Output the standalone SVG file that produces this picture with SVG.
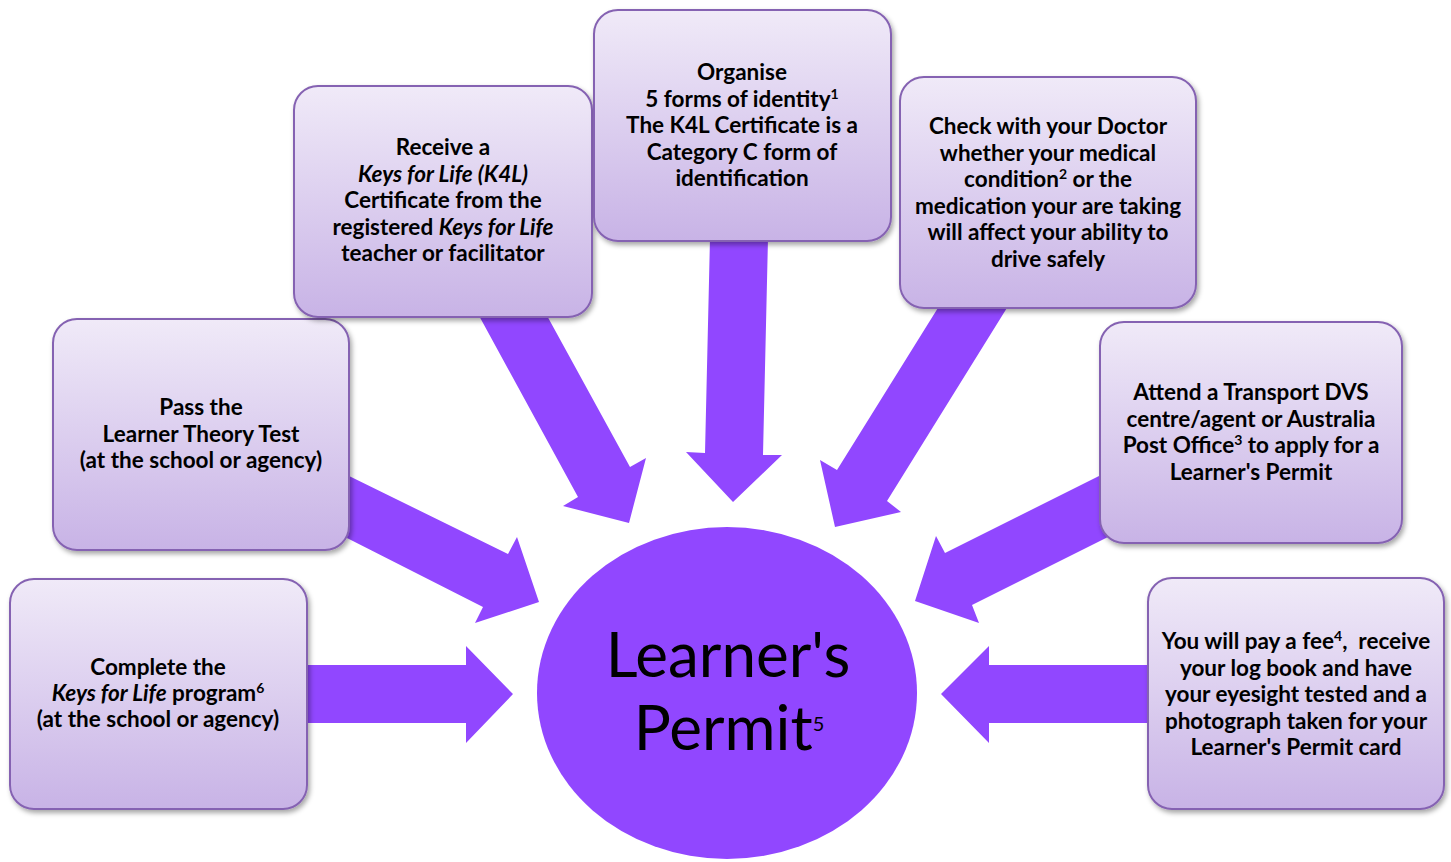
<svg xmlns="http://www.w3.org/2000/svg" width="1451" height="862" viewBox="0 0 1451 862">
<defs>
<linearGradient id="boxg" x1="0" y1="0" x2="0" y2="1">
<stop offset="0" stop-color="#f0eaf8"/>
<stop offset="1" stop-color="#c8b3e6"/>
</linearGradient>
<filter id="sh" x="-10%" y="-10%" width="125%" height="125%">
<feDropShadow dx="2" dy="3" stdDeviation="2.5" flood-color="#000" flood-opacity="0.35"/>
</filter>
</defs>
<style>
.box{fill:url(#boxg);stroke:#8562b2;stroke-width:2;filter:url(#sh);}
.arrow{fill:#9147ff;}
.t{font-family:Lato,"Liberation Sans",sans-serif;font-weight:bold;font-size:22.5px;fill:#000;text-anchor:middle;}
.i{font-style:italic;}
.sup{font-size:14px;}
.big{font-family:Lato,"Liberation Sans",sans-serif;font-size:62px;fill:#000;text-anchor:middle;}
</style>
<rect width="1451" height="862" fill="#fff"/>
<g id="connectors">
<polygon class="arrow" points="300,665 466,665 466,646 513,694 466,743 466,723 300,723"/>
<polygon class="arrow" points="1150,665 989,665 989,646 941,694 989,743 989,723 1150,723"/>
<polygon class="arrow" points="345,474 508,554 517,537 539,602 475,623 483,607 345,537"/>
<polygon class="arrow" points="477,312 545,312 630,467 646,458 629,523 563,506 578,497"/>
<polygon class="arrow" points="710,238 768,238 763,455 782,455 733,502 686,452 705,453"/>
<polygon class="arrow" points="941,303 1010,303 887,501 901,512 835,527 820,460 837,470"/>
<polygon class="arrow" points="1105,473 945,553 936,536 915,601 979,623 972,605 1108,537"/>
</g>
<g id="center">
<ellipse cx="727" cy="693" rx="190" ry="166" fill="#9147ff"/>
<text class="big" x="728" y="677">Learner's</text>
<text class="big" x="729" y="750">Permit<tspan font-size="20" dy="-19">5</tspan></text>
</g>
<g id="box1">
<rect class="box" x="10" y="579" width="297" height="230" rx="24"/>
<text class="t" x="158" y="675">Complete the</text>
<text class="t" x="158" y="701"><tspan class="i">Keys for Life</tspan> program<tspan class="sup" dy="-8">6</tspan></text>
<text class="t" x="158" y="727">(at the school or agency)</text>
</g>
<g id="box2">
<rect class="box" x="53" y="319" width="296" height="231" rx="24"/>
<text class="t" x="201" y="415">Pass the</text>
<text class="t" x="201" y="441.5">Learner Theory Test</text>
<text class="t" x="201" y="468">(at the school or agency)</text>
</g>
<g id="box3">
<rect class="box" x="294" y="86" width="298" height="231" rx="24"/>
<text class="t" x="443" y="155">Receive a</text>
<text class="t i" x="443" y="181.5">Keys for Life (K4L)</text>
<text class="t" x="443" y="208">Certificate from the</text>
<text class="t" x="443" y="234.5">registered <tspan class="i">Keys for Life</tspan></text>
<text class="t" x="443" y="261">teacher or facilitator</text>
</g>
<g id="box4">
<rect class="box" x="594" y="10" width="297" height="231" rx="24"/>
<text class="t" x="742" y="80">Organise</text>
<text class="t" x="742" y="106.5">5 forms of identity<tspan class="sup" dy="-8">1</tspan></text>
<text class="t" x="742" y="133">The K4L Certificate is a</text>
<text class="t" x="742" y="159.5">Category C form of</text>
<text class="t" x="742" y="186">identification</text>
</g>
<g id="box5">
<rect class="box" x="900" y="77" width="296" height="231" rx="24"/>
<text class="t" x="1048" y="134">Check with your Doctor</text>
<text class="t" x="1048" y="160.5">whether your medical</text>
<text class="t" x="1048" y="187">condition<tspan class="sup" dy="-8">2</tspan><tspan dy="8"> or the</tspan></text>
<text class="t" x="1048" y="213.5">medication your are taking</text>
<text class="t" x="1048" y="240">will affect your ability to</text>
<text class="t" x="1048" y="266.5">drive safely</text>
</g>
<g id="box6">
<rect class="box" x="1100" y="322" width="302" height="221" rx="24"/>
<text class="t" x="1251" y="400">Attend a Transport DVS</text>
<text class="t" x="1251" y="426.5">centre/agent or Australia</text>
<text class="t" x="1251" y="453">Post Office<tspan class="sup" dy="-8">3</tspan><tspan dy="8"> to apply for a</tspan></text>
<text class="t" x="1251" y="479.5">Learner's Permit</text>
</g>
<g id="box7">
<rect class="box" x="1148" y="578" width="296" height="231" rx="24"/>
<text class="t" x="1296" y="649">You will pay a fee<tspan class="sup" dy="-8">4</tspan><tspan dy="8">, &#160;receive</tspan></text>
<text class="t" x="1296" y="675.5">your log book and have</text>
<text class="t" x="1296" y="702">your eyesight tested and a</text>
<text class="t" x="1296" y="728.5">photograph taken for your</text>
<text class="t" x="1296" y="755">Learner's Permit card</text>
</g>
</svg>
